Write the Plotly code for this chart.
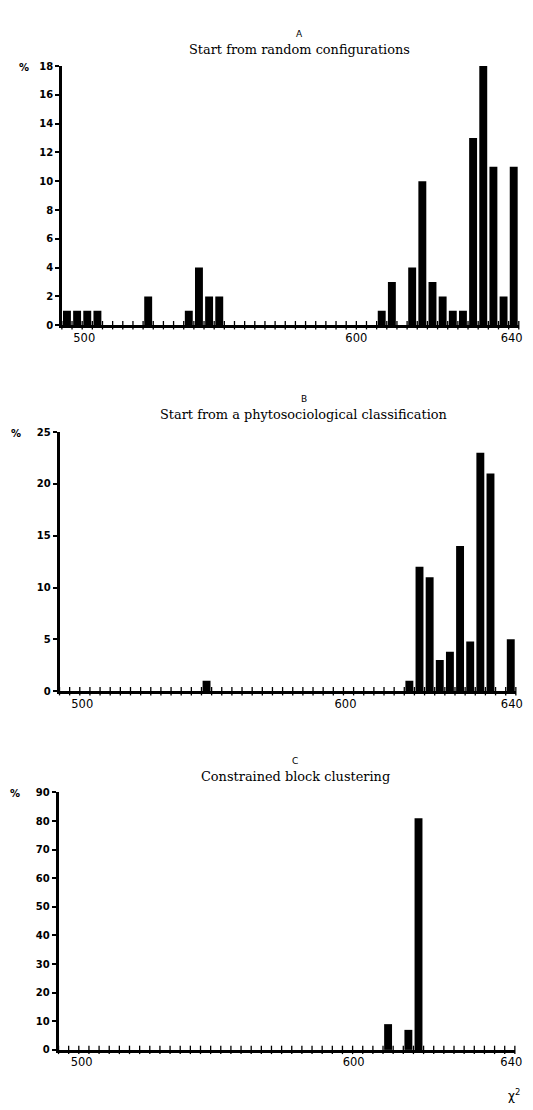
import plotly.graph_objects as go

N_BINS = 45
bins = list(range(N_BINS))

# Panel A: start from random configurations (%)
vals_a = [1, 1, 1, 1, 0, 0, 0, 0, 2, 0, 0, 0, 1, 4, 2, 2,
          0, 0, 0, 0, 0, 0, 0, 0, 0, 0, 0, 0, 0, 0, 0,
          1, 3, 0, 4, 10, 3, 2, 1, 1, 13, 18, 11, 2, 11]
# Panel B: start from a phytosociological classification (%)
vals_b = [0, 0, 0, 0, 0, 0, 0, 0, 0, 0, 0, 0, 0, 0, 1, 0,
          0, 0, 0, 0, 0, 0, 0, 0, 0, 0, 0, 0, 0, 0, 0,
          0, 0, 0, 1, 12, 11, 3, 3.8, 14, 4.8, 23, 21, 0, 5]
# Panel C: constrained block clustering (%)
vals_c = [0, 0, 0, 0, 0, 0, 0, 0, 0, 0, 0, 0, 0, 0, 0, 0,
          0, 0, 0, 0, 0, 0, 0, 0, 0, 0, 0, 0, 0, 0, 0,
          0, 9, 0, 7, 81, 0, 0, 0, 0, 0, 0, 0, 0, 0]

xtick_text = ["500", "600", "640"]
xtick_pos_a = [2.2, 29.0, 44.3]
xtick_pos_b = [2.24, 28.2, 44.6]
xtick_pos_c = [2.28, 29.1, 44.65]

ytick_a = [0, 2, 4, 6, 8, 10, 12, 14, 16, 18]
ytick_b = [0, 5, 10, 15, 20, 25]
ytick_c = [0, 10, 20, 30, 40, 50, 60, 70, 80, 90]

letters = ["A", "B", "C"]
titles = ["Start from random configurations",
          "Start from a phytosociological classification",
          "Constrained block clustering"]

W, H = 533, 1110

panels = [
    dict(vals=vals_a, xt=xtick_pos_a, yt=ytick_a, yr=[0, 18],
         xd=[62.7, 525.7], yd=[60.7, 322.7], tx=303, ty=44, px=24),
    dict(vals=vals_b, xt=xtick_pos_b, yt=ytick_b, yr=[0, 25],
         xd=[60.3, 522.7], yd=[430.7, 692.7], tx=308, ty=413, px=16),
    dict(vals=vals_c, xt=xtick_pos_c, yt=ytick_c, yr=[0, 90],
         xd=[59.3, 521.7], yd=[795.0, 1055.3], tx=299, ty=779, px=15),
]

fig = go.Figure()
annotations = []
layout = dict(width=W, height=H, margin=dict(l=0, r=0, t=0, b=0),
              paper_bgcolor="white", plot_bgcolor="white",
              showlegend=False)

for i, p in enumerate(panels):
    sfx = "" if i == 0 else str(i + 1)
    xa, ya = "x" + sfx, "y" + sfx
    fig.add_trace(go.Bar(x=[b + 0.5 for b in bins], y=p["vals"],
                         width=0.78, marker=dict(color="black", line=dict(width=0)),
                         xaxis=xa, yaxis=ya, hoverinfo="skip"))
    # crossing tick marks at each bin edge on the baseline
    fig.add_trace(go.Scatter(x=list(range(N_BINS + 1)), y=[0] * (N_BINS + 1),
                             mode="markers", cliponaxis=False,
                             marker=dict(symbol="line-ns", size=6,
                                         line=dict(width=1.3, color="black")),
                             xaxis=xa, yaxis=ya, hoverinfo="skip"))
    layout["xaxis" + sfx] = dict(
        domain=[p["xd"][0] / W, p["xd"][1] / W], range=[0, N_BINS],
        anchor=ya, showline=True, linewidth=2.5, linecolor="black",
        showgrid=False, zeroline=False, ticks="",
        tickmode="array", tickvals=p["xt"], ticktext=xtick_text,
        tickfont=dict(family="DejaVu Sans", size=11.5, color="black"),
        fixedrange=True)
    layout["yaxis" + sfx] = dict(
        domain=[1 - p["yd"][1] / H, 1 - p["yd"][0] / H], range=p["yr"],
        anchor=xa, showline=True, linewidth=2.5, linecolor="black",
        showgrid=False, zeroline=False, ticks="outside", ticklen=4,
        tickwidth=2, tickcolor="black",
        tickmode="array", tickvals=p["yt"],
        tickfont=dict(family="DejaVu Sans", size=10, color="black", weight="bold"),
        fixedrange=True)
    annotations.append(dict(text=letters[i], x=p["tx"] / W, y=1 - (p["ty"] - 16) / H,
                            xref="paper", yref="paper", showarrow=False,
                            xanchor="center", yanchor="middle",
                            font=dict(family="DejaVu Sans", size=9, color="black")))
    annotations.append(dict(text=titles[i], x=p["tx"] / W, y=1 - p["ty"] / H,
                            xref="paper", yref="paper", showarrow=False,
                            xanchor="center", yanchor="middle",
                            font=dict(family="DejaVu Serif", size=12.9, color="black")))
    annotations.append(dict(text="%", x=p["px"] / W, y=1 - (p["yd"][0] + 1) / H,
                            xref="paper", yref="paper", showarrow=False,
                            xanchor="center", yanchor="middle",
                            font=dict(family="DejaVu Sans", size=10, color="black",
                                      weight="bold")))

annotations.append(dict(text="χ<sup>2</sup>", x=521 / W, y=1 - 1101 / H,
                        xref="paper", yref="paper", showarrow=False,
                        xanchor="center", yanchor="middle",
                        font=dict(family="DejaVu Sans", size=12, color="black")))

layout["annotations"] = annotations
fig.update_layout(**layout)
fig.write_html("out.html",
               config={"displayModeBar": False},
               post_script="document.body.style.margin='0';"
                           "document.body.style.overflow='hidden';")
